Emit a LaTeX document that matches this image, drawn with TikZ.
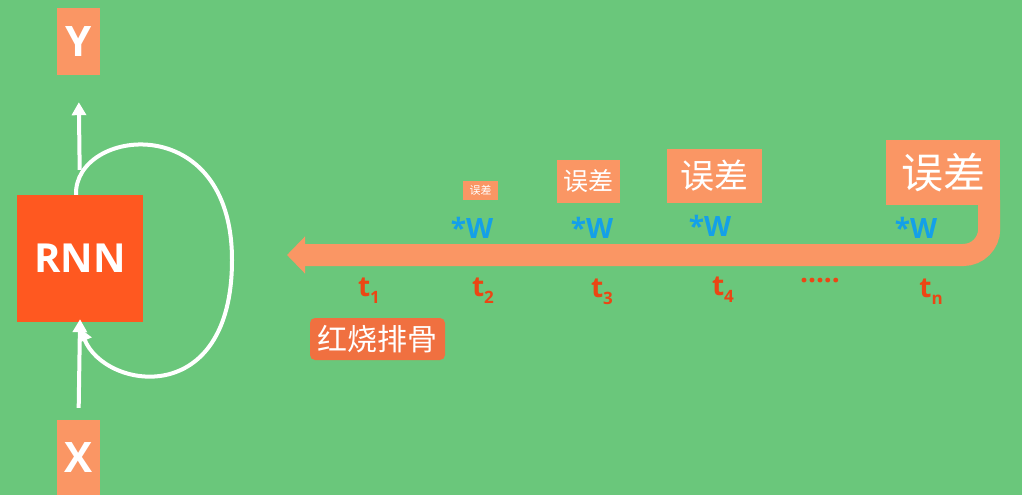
\documentclass[tikz,border=0pt]{standalone}
\usepackage{fontspec}
\setmainfont{Open Sans}
\newfontfamily\cjk{Noto Sans CJK SC}
\usepackage{tikz}
\usetikzlibrary{arrows.meta,positioning,calc}
\definecolor{bggreen}{RGB}{106,199,123}
\definecolor{peach}{RGB}{250,150,100}
\definecolor{rnnred}{RGB}{255,88,32}
\definecolor{tred}{RGB}{236,70,20}
\definecolor{dishred}{RGB}{240,112,64}
\definecolor{wblue}{RGB}{20,160,232}
\newcommand{\tsub}[1]{t\raisebox{-7pt}{\fontsize{17}{17}\selectfont #1}}

\begin{document}
\begin{tikzpicture}[
    x=1pt, y=-1pt,
    io/.style={fill=peach, text=white, font=\bfseries\fontsize{42}{42}\selectfont, minimum width=43pt, inner sep=0pt},
    cell/.style={fill=rnnred, text=white, font=\bfseries\fontsize{40}{40}\selectfont, minimum width=126pt, minimum height=127pt, inner sep=0pt},
    errbox/.style={fill=peach, text=white, inner sep=0pt},
    wlab/.style={text=wblue, font=\bfseries\fontsize{28}{28}\selectfont, inner sep=0pt},
    tlab/.style={text=tred, font=\bfseries\fontsize{28}{28}\selectfont, inner sep=0pt},
    dish/.style={fill=dishred, text=white, rounded corners=5pt, minimum width=135pt, minimum height=42pt, inner sep=0pt, font=\cjk\fontsize{30}{30}\selectfont},
    flow/.style={white, line width=4pt, -{Triangle[width=14pt,length=13pt]}}
]
\fill[bggreen] (0,0) rectangle (1022,495);

\node[io, minimum height=67pt] (y) at (78.5,41.5) {Y};
\node[cell] (rnn) at (80,258.5) {RNN};
\node[io, minimum height=75pt] (x) at (78.5,457.5) {X};

\draw[flow, shorten <=25pt, shorten >=27pt] (rnn.north) -- (y.south);
\draw[flow, shorten <=12pt, shorten >=-3pt] (x.north) -- (rnn.south);
\draw[flow] ([xshift=-4pt]rnn.north) .. controls (74,128) and (232,108) .. (232,260)
    .. controls (232,410) and (105,390) .. ([yshift=-6pt]rnn.south);

\node[errbox, minimum width=35pt, minimum height=19pt, font=\cjk\fontsize{11}{11}\selectfont] (err2) at (480.5,190.5) {误差};
\node[errbox, minimum width=63pt, minimum height=43pt, font=\cjk\fontsize{25}{25}\selectfont] (err3) at (588.5,181.5) {误差};
\node[errbox, minimum width=95pt, minimum height=54pt, font=\cjk\fontsize{34}{34}\selectfont] (err4) at (714.5,176) {误差};
\node[errbox, minimum width=114pt, minimum height=65pt, font=\cjk\fontsize{42}{42}\selectfont] (errn) at (943,172.5) {误差};

\coordinate (tip) at (287,255);
\draw[peach, line width=22pt, rounded corners=26pt, -{Triangle[width=36pt,length=18pt]}]
    ([xshift=-11pt,yshift=5pt]errn.south east) |- (tip);

\node[wlab] (w2) at (472,228) {*W};
\node[wlab] (w3) at (592,228) {*W};
\node[wlab] (w4) at (710,226) {*W};
\node[wlab] (wn) at (916,228) {*W};

\node[tlab] (t1) at (369,291) {\tsub{1}};
\node[tlab] (t2) at (483,291) {\tsub{2}};
\node[tlab] (t3) at (602,292) {\tsub{3}};
\node[tlab] (t4) at (723,290) {\tsub{4}};
\node[tlab] (dots) at (820,281) {.....};
\node[tlab] (tn) at (931,292) {\tsub{n}};

\node[dish] (food) at (377.5,339) {红烧排骨};
\end{tikzpicture}
\end{document}
